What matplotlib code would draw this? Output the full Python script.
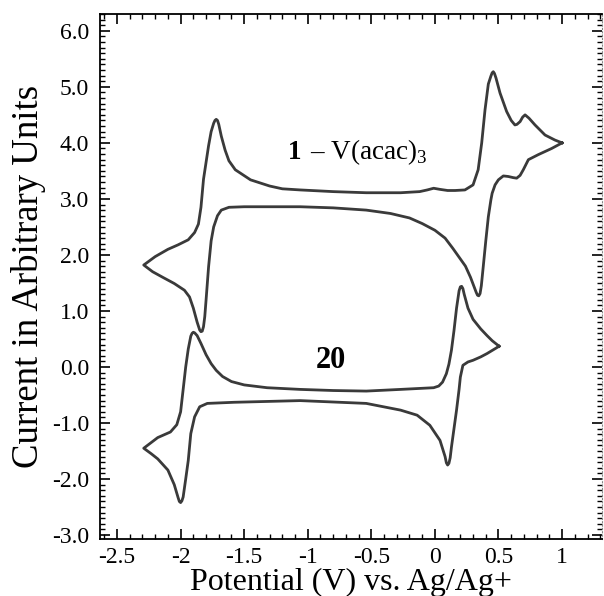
import matplotlib
matplotlib.use("Agg")
import matplotlib.pyplot as plt
from matplotlib.ticker import MultipleLocator

plt.rcParams['font.family'] = ['Liberation Serif', 'DejaVu Serif']
plt.rcParams['mathtext.fontset'] = 'custom'
plt.rcParams['mathtext.rm'] = 'Liberation Serif'
plt.rcParams['mathtext.bf'] = 'Liberation Serif:bold'
plt.rcParams['axes.unicode_minus'] = False

# Kurva atas: 1 - V(acac)3 (loop tertutup, mulai dari vertex kanan)
v_acac_E = [1.00, 0.944, 0.866, 0.787, 0.74, 0.709, 0.69, 0.67, 0.645, 0.629, 0.60,
            0.564, 0.512, 0.48, 0.468, 0.459, 0.45, 0.44, 0.42, 0.394, 0.368, 0.34,
            0.30, 0.236, 0.158, 0.10, 0.04, -0.01, -0.06, -0.12, -0.27, -0.54, -0.80,
            -1.06, -1.20, -1.30, -1.45, -1.57, -1.62, -1.65, -1.68, -1.70, -1.71,
            -1.72, -1.73, -1.74, -1.76, -1.78, -1.80, -1.82, -1.84, -1.86, -1.89,
            -1.94, -2.02, -2.10, -2.20, -2.29,
            -2.22, -2.14, -2.05, -1.97, -1.93, -1.90, -1.87, -1.85, -1.84, -1.83,
            -1.82, -1.81, -1.80, -1.78, -1.76, -1.74, -1.71, -1.68, -1.62, -1.50,
            -1.06, -0.80, -0.54, -0.35, -0.20, -0.10, 0.00, 0.08, 0.14, 0.19, 0.24,
            0.28, 0.31, 0.325, 0.335, 0.345, 0.355, 0.365, 0.38, 0.40, 0.42, 0.44,
            0.45, 0.473, 0.499, 0.538, 0.577, 0.615, 0.643, 0.67, 0.695, 0.735,
            0.813, 0.918, 1.00]
v_acac_I = [4.00, 4.05, 4.14, 4.32, 4.44, 4.50, 4.46, 4.38, 4.33, 4.32, 4.40,
            4.56, 4.89, 5.16, 5.24, 5.27, 5.25, 5.19, 5.05, 4.59, 4.00, 3.52,
            3.25, 3.16, 3.15, 3.15, 3.17, 3.19, 3.16, 3.13, 3.11, 3.11, 3.13,
            3.16, 3.18, 3.23, 3.34, 3.52, 3.68, 3.87, 4.12, 4.33, 4.40,
            4.42, 4.40, 4.35, 4.20, 3.95, 3.65, 3.35, 2.85, 2.55, 2.40,
            2.27, 2.18, 2.10, 1.97, 1.82,
            1.70, 1.60, 1.49, 1.37, 1.25, 1.05, 0.80, 0.66, 0.63, 0.64,
            0.72, 0.90, 1.19, 1.79, 2.25, 2.50, 2.70, 2.80, 2.85, 2.86,
            2.86, 2.84, 2.80, 2.74, 2.66, 2.56, 2.44, 2.30, 2.12, 1.96, 1.80,
            1.60, 1.42, 1.33, 1.28, 1.27, 1.31, 1.45, 1.79, 2.25, 2.68, 2.98,
            3.10, 3.25, 3.34, 3.41, 3.40, 3.38, 3.37, 3.42, 3.52, 3.70,
            3.79, 3.90, 4.00]

# Kurva bawah: 20
c20_E = [0.505, 0.45, 0.41, 0.36, 0.30, 0.26, 0.23, 0.22, 0.21, 0.20, 0.19, 0.17,
         0.15, 0.13, 0.11, 0.09, 0.06, 0.03, -0.01, -0.27, -0.54, -0.80, -1.06,
         -1.32, -1.50, -1.60, -1.67, -1.72, -1.76, -1.80, -1.84, -1.87, -1.89, -1.90,
         -1.91, -1.92, -1.94, -1.96, -1.98, -2.00, -2.03, -2.08, -2.18, -2.29,
         -2.23, -2.18, -2.10, -2.05, -2.02, -2.01, -2.00, -1.99, -1.98, -1.96, -1.94,
         -1.92, -1.89, -1.85, -1.79, -1.58, -1.06, -0.54, -0.27, -0.14, -0.04, 0.04,
         0.08, 0.09, 0.10, 0.11, 0.12, 0.13, 0.15, 0.17, 0.19, 0.20, 0.22, 0.26,
         0.30, 0.36, 0.41, 0.505]
c20_I = [0.37, 0.47, 0.56, 0.68, 0.85, 1.05, 1.30, 1.40, 1.44, 1.43, 1.36, 1.05,
         0.65, 0.30, 0.05, -0.12, -0.27, -0.34, -0.37, -0.40, -0.43, -0.42, -0.40,
         -0.37, -0.32, -0.26, -0.17, -0.06, 0.06, 0.22, 0.42, 0.56, 0.61, 0.62,
         0.60, 0.55, 0.32, 0.00, -0.40, -0.80, -1.03, -1.16, -1.26, -1.45,
         -1.55, -1.64, -1.84, -2.10, -2.33, -2.40, -2.42, -2.39, -2.32, -2.00, -1.67,
         -1.19, -0.89, -0.71, -0.65, -0.63, -0.60, -0.65, -0.77, -0.86, -1.04, -1.31,
         -1.60, -1.71, -1.75, -1.72, -1.62, -1.43, -1.10, -0.77, -0.40, -0.18, 0.03,
         0.09, 0.12, 0.18, 0.24, 0.37]

xticks = [-2.5, -2, -1.5, -1, -0.5, 0, 0.5, 1]
xtick_labels = ['-2.5', '-2', '-1.5', '-1', '-0.5', '0', '0.5', '1']
yticks = [-3, -2, -1, 0, 1, 2, 3, 4, 5, 6]
ytick_labels = ['%.1f' % y for y in yticks]

fig = plt.figure(figsize=(6.04, 5.96), dpi=100)
ax = fig.add_axes([100 / 604, 57 / 596, 502 / 604, 525 / 596])

line_col = '#3a3a3a'
ax.plot(v_acac_E, v_acac_I, color=line_col, lw=2.0, solid_joinstyle='round')
ax.plot(c20_E, c20_I, color=line_col, lw=2.0, solid_joinstyle='round')

ax.set_xlim(-2.634, 1.314)
ax.set_ylim(-3.07, 6.30)

ax.set_xticks(xticks)
ax.set_xticklabels(xtick_labels)
ax.set_yticks(yticks)
ax.set_yticklabels(ytick_labels)
ax.xaxis.set_minor_locator(MultipleLocator(0.1))
ax.yaxis.set_minor_locator(MultipleLocator(0.1))

ax.tick_params(which='both', direction='in', top=True, right=True, labelsize=17)
ax.tick_params(which='major', length=7, width=1.2)
ax.tick_params(which='minor', length=3.5, width=1)
ax.tick_params(axis='x', pad=6)
ax.tick_params(axis='y', pad=8)
for side in ['left', 'bottom', 'top']:
    ax.spines[side].set_linewidth(1.3)
ax.spines['right'].set_linestyle((0, (1, 2)))
ax.spines['right'].set_color('#888888')

ax.set_xlabel('Potential (V) vs. Ag/Ag+', fontsize=23, va='baseline')
ax.xaxis.set_label_coords(0.5, -0.0975)
ax.set_ylabel('Current in Arbitrary Units', fontsize=26.5, labelpad=4)

ax.text(-1.153, 3.71, '1', fontsize=19.5, fontweight='bold')
ax.text(-0.985, 3.71, r'– V(acac)$_3$', fontsize=19.5)
ax.text(-0.941, -0.02, '20', fontsize=22, fontweight='bold')

fig.savefig('out.png', dpi=100)
